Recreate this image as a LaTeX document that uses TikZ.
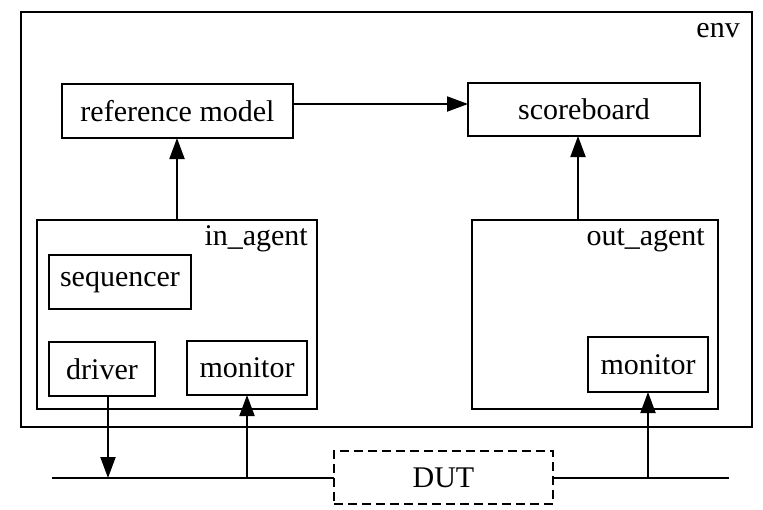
\documentclass[tikz,border=0pt]{standalone}
\usepackage{fontspec}
\setmainfont{Liberation Serif}
\usetikzlibrary{arrows.meta}
\tikzset{
	box/.style={draw, line width=2pt, inner sep=0pt, outer sep=0pt, anchor=north west},
	arr/.style={line width=2pt, -{Triangle[length=21pt,width=15pt]}},
	lbl/.style={anchor=base east, inner sep=0pt}
}
\begin{document}
\begin{tikzpicture}[x=1pt, y=-1pt, font=\fontsize{30}{36}\selectfont]
				\useasboundingbox (0,0) rectangle (763,509);
				\node [box, minimum width=731pt, minimum height=415pt] (env) at (21,12) {};
				\node [lbl] at (740,37) {env};
				\node [box, minimum width=231pt, minimum height=54pt] (refm) at (62,84) {reference model};
				\node [box, minimum width=232pt, minimum height=53pt] (score) at (468,83) {scoreboard};
				\node [box, minimum width=280pt, minimum height=189pt] (inag) at (37,220) {};
				\node [lbl] at (308,245) {in\_agent};
				\node [box, minimum width=142pt, minimum height=54pt] (seq) at (49,255) {sequencer};
				\node [box, minimum width=106pt, minimum height=54pt] (drv) at (49,342) {driver};
				\node [box, minimum width=120pt, minimum height=54pt] (mona) at (187,341) {monitor};
				\node [box, minimum width=246pt, minimum height=189pt] (outag) at (472,220) {};
				\node [lbl] at (705,245) {out\_agent};
				\node [box, minimum width=120pt, minimum height=55pt] (monb) at (588,337) {monitor};
				\node [box, dashed, dash pattern=on 9pt off 5pt, minimum width=219pt, minimum height=53pt] (dut) at (334,451) {DUT};
				\coordinate (busl) at (52,478);
				\coordinate (busr) at (729,478);
				\draw [line width=2pt] (busl) -- (busl -| dut.west);
				\draw [line width=2pt] (dut.east |- busr) -- (busr);
				\draw [arr] ([yshift=7pt]refm.east) -- ([yshift=7pt]refm.east -| score.west);
				\draw [arr] (inag.north) -- (inag.north |- refm.south);
				\draw [arr] ([xshift=-6pt]score.south |- outag.north) -- ([xshift=-6pt]score.south);
				\draw [arr] ([xshift=6pt]drv.south) -- ([xshift=6pt]drv.south |- busl);
				\draw [arr] (mona.south |- busl) -- (mona.south);
				\draw [arr] (monb.south |- busr) -- (monb.south);
			\end{tikzpicture}
\end{document}
